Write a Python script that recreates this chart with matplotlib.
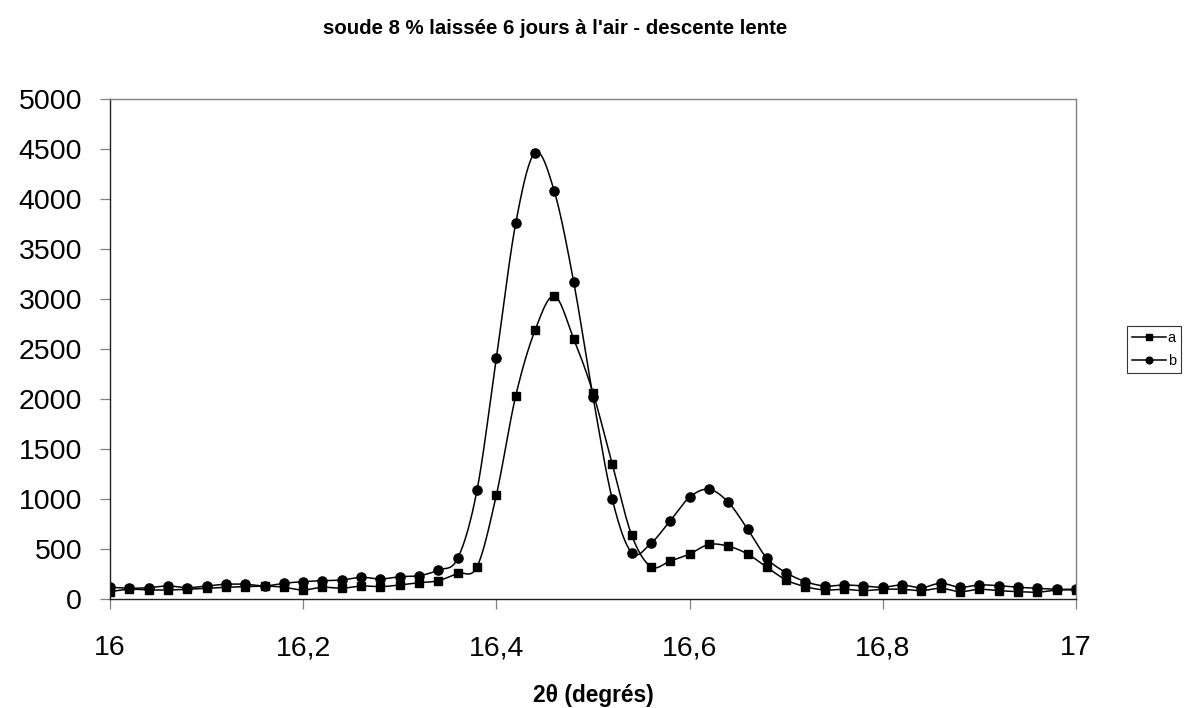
import numpy as np
import matplotlib
matplotlib.use('Agg')
from matplotlib import pyplot as plt

# angles 2theta (degres), pas de 0,02
x_start, x_step, n_points = 16.0, 0.02, 51
angles = [round(x_start + i * x_step, 2) for i in range(n_points)]

# intensites
serie_a = [73, 97, 90, 90, 97, 107, 117, 123, 130, 117,
           90, 117, 107, 130, 123, 140, 163, 183, 257, 323,
           1040, 2030, 2687, 3030, 2603, 2063, 1347, 640, 323, 380,
           450, 545, 528, 450, 317, 190, 123, 90, 97, 83,
           97, 97, 83, 107, 73, 97, 83, 73, 67, 90, 90]
serie_b = [117, 107, 113, 130, 113, 130, 147, 147, 130, 157,
           173, 183, 190, 217, 200, 223, 233, 290, 407, 1090,
           2413, 3757, 4463, 4077, 3173, 2023, 997, 463, 557, 783,
           1017, 1097, 968, 700, 407, 263, 173, 130, 140, 130,
           117, 140, 113, 157, 117, 140, 133, 117, 107, 97, 97]

x_ticks = [16, 16.2, 16.4, 16.6, 16.8, 17]
x_tick_labels = ['16', '16,2', '16,4', '16,6', '16,8', '17']
y_ticks = list(range(0, 5001, 500))

plt.rcParams['font.family'] = ['Liberation Sans', 'DejaVu Sans']


def courbe_lissee(x, y, pas=20):
    # lissage type Excel : Bezier cubique, tangentes (p2-p0)/6
    x = np.asarray(x, float)
    y = np.asarray(y, float)
    xs, ys = [], []
    n = len(x)
    t = np.linspace(0, 1, pas, endpoint=False)
    for i in range(n - 1):
        i0, i3 = max(i - 1, 0), min(i + 2, n - 1)
        p0 = np.array([x[i], y[i]])
        p3 = np.array([x[i + 1], y[i + 1]])
        c1 = p0 + (p3 - np.array([x[i0], y[i0]])) / 6
        c2 = p3 - (np.array([x[i3], y[i3]]) - p0) / 6
        b = ((1 - t) ** 3)[:, None] * p0 + (3 * (1 - t) ** 2 * t)[:, None] * c1 \
            + (3 * (1 - t) * t ** 2)[:, None] * c2 + (t ** 3)[:, None] * p3
        xs.extend(b[:, 0])
        ys.extend(b[:, 1])
    xs.append(x[-1])
    ys.append(y[-1])
    return xs, ys


fig = plt.figure(figsize=(11.85, 7.08), dpi=100)
ax = fig.add_axes([0.0928, 0.154, 0.8152, 0.706])

xa, ya = courbe_lissee(angles, serie_a)
xb, yb = courbe_lissee(angles, serie_b)
ax.plot(xa, ya, c='black', linewidth=1.1)
ax.plot(xb, yb, c='black', linewidth=1.1)
ax.plot(angles, serie_a, ls='none', marker='s', ms=6.3, c='black')
ax.plot(angles, serie_b, ls='none', marker='o', ms=6.6, c='black')

# legende (poignees ligne + marqueur)
ax.plot([], [], c='black', linewidth=1.1, marker='s', ms=4.6, label='a')
ax.plot([], [], c='black', linewidth=1.1, marker='o', ms=4.8, label='b')
leg = ax.legend(loc='center left', bbox_to_anchor=(1.0528, 0.499), fontsize=10.5,
                frameon=True, fancybox=False, edgecolor='black',
                handlelength=2.3, handletextpad=0.15, borderpad=0.35,
                labelspacing=0.6, borderaxespad=0)
leg.get_frame().set_linewidth(0.8)

ax.set_xlim(16, 17)
ax.set_ylim(0, 5000)
ax.set_xticks(x_ticks)
ax.set_xticklabels(x_tick_labels)
ax.set_yticks(y_ticks)
ax.tick_params(axis='both', which='major', labelsize=20.5, direction='out',
               length=7, width=0.9, color='#808080')
ax.tick_params(axis='y', pad=13)
ax.tick_params(axis='x', pad=19)
for side in ['top', 'right']:
    ax.spines[side].set_color('#808080')
for side in ['left', 'bottom']:
    ax.spines[side].set_color('#202020')
for s in ax.spines.values():
    s.set_linewidth(1.0)

fig.text(0.4684, 0.960, "soude 8 % laissée 6 jours à l'air - descente lente",
         ha='center', va='center', fontsize=14.7, fontweight='bold')
fig.text(0.5004, 0.0085, '2θ (degrés)', ha='center', va='baseline',
         fontsize=16.4, fontweight='bold')

fig.savefig('out.png', dpi=100)
